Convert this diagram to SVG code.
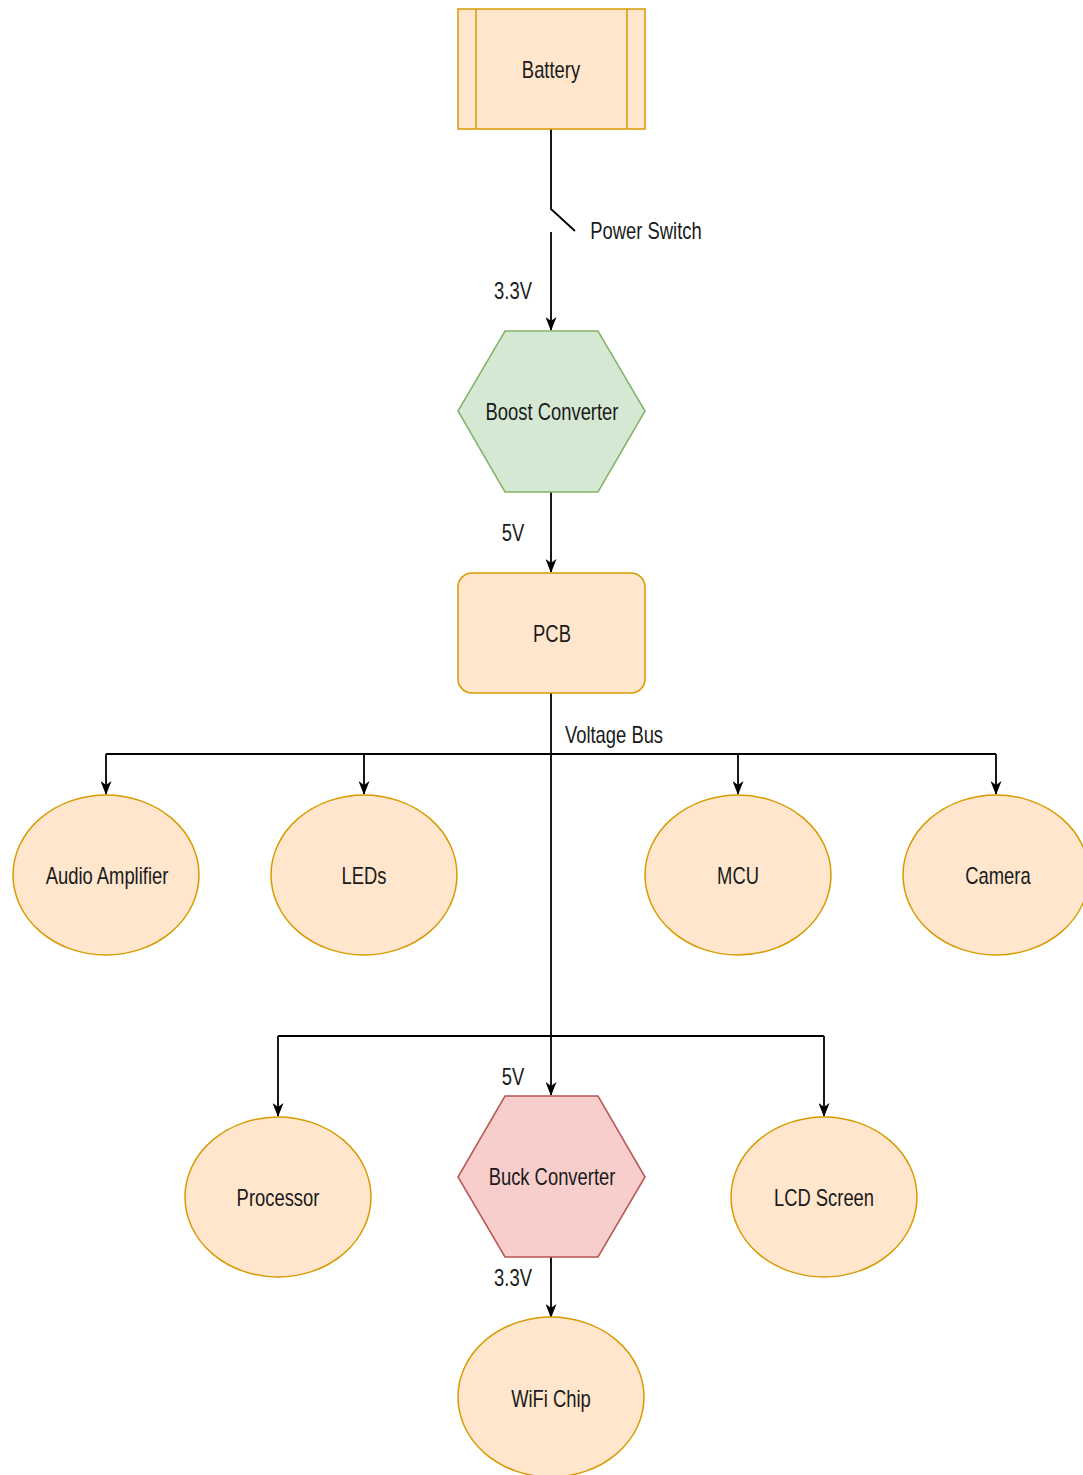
<svg xmlns="http://www.w3.org/2000/svg" width="1083" height="1475" viewBox="0 0 1083 1475">
<style>
.t{font-family:"Liberation Sans",Arial,sans-serif;font-size:23px;fill:#1a1a1a;text-anchor:middle}
.o{fill:#ffe6cc;stroke:#d79b00;stroke-width:1.5}
.g{fill:#d5e8d4;stroke:#82b366;stroke-width:1.5}
.r{fill:#f8cecc;stroke:#b85450;stroke-width:1.5}
.c{fill:none;stroke:#000;stroke-width:1.8}
.a{marker-end:url(#ah)}
</style>
<defs>
<marker id="ah" viewBox="0 0 14 11" refX="13" refY="5.5" markerWidth="14" markerHeight="11" markerUnits="userSpaceOnUse" orient="auto">
<path d="M0,0 L14,5.5 L0,11 L4,5.5 z" fill="#000"/>
</marker>
</defs>
<rect width="1083" height="1475" fill="#fff"/>
<g id="connectors">
<path class="c" d="M551,129 V209 L575,231"/>
<path class="c a" d="M551,232 V330"/>
<path class="c a" d="M551,492 V572"/>
<path class="c a" d="M551,693 V1095"/>
<path class="c" d="M106,754 H996"/>
<path class="c a" d="M106,754 V794"/>
<path class="c a" d="M364,754 V794"/>
<path class="c a" d="M738,754 V794"/>
<path class="c a" d="M996,754 V794"/>
<path class="c" d="M278,1036 H824"/>
<path class="c a" d="M278,1036 V1116"/>
<path class="c a" d="M824,1036 V1116"/>
<path class="c a" d="M551,1257 V1317"/>
<text class="t" transform="matrix(0.8 0 0 1 646 239)">Power Switch</text>
<text class="t" transform="matrix(0.8 0 0 1 513 299)">3.3V</text>
<text class="t" transform="matrix(0.8 0 0 1 513 541)">5V</text>
<text class="t" transform="matrix(0.8 0 0 1 614 743)">Voltage Bus</text>
<text class="t" transform="matrix(0.8 0 0 1 513 1085)">5V</text>
<text class="t" transform="matrix(0.8 0 0 1 513 1286)">3.3V</text>
</g>
<g id="battery">
<rect class="o" x="458" y="9" width="187" height="120"/>
<path class="o" d="M476,9 V129 M627,9 V129"/>
<text class="t" transform="matrix(0.8 0 0 1 551 78)">Battery</text>
</g>
<g id="boost">
<polygon class="g" points="505,331 598,331 645,411 598,492 505,492 458,411"/>
<text class="t" transform="matrix(0.8 0 0 1 552 420)">Boost Converter</text>
</g>
<g id="pcb">
<rect class="o" x="458" y="573" width="187" height="120" rx="14"/>
<text class="t" transform="matrix(0.8 0 0 1 552 642)">PCB</text>
</g>
<g id="audio">
<ellipse class="o" cx="106" cy="875" rx="93" ry="80"/>
<text class="t" transform="matrix(0.8 0 0 1 107 884)">Audio Amplifier</text>
</g>
<g id="leds">
<ellipse class="o" cx="364" cy="875" rx="93" ry="80"/>
<text class="t" transform="matrix(0.8 0 0 1 364 884)">LEDs</text>
</g>
<g id="mcu">
<ellipse class="o" cx="738" cy="875" rx="93" ry="80"/>
<text class="t" transform="matrix(0.8 0 0 1 738 884)">MCU</text>
</g>
<g id="camera">
<ellipse class="o" cx="996" cy="875" rx="93" ry="80"/>
<text class="t" transform="matrix(0.8 0 0 1 998 884)">Camera</text>
</g>
<g id="processor">
<ellipse class="o" cx="278" cy="1197" rx="93" ry="80"/>
<text class="t" transform="matrix(0.8 0 0 1 278 1206)">Processor</text>
</g>
<g id="buck">
<polygon class="r" points="505,1096 598,1096 645,1177 598,1257 505,1257 458,1177"/>
<text class="t" transform="matrix(0.8 0 0 1 552 1185)">Buck Converter</text>
</g>
<g id="lcd">
<ellipse class="o" cx="824" cy="1197" rx="93" ry="80"/>
<text class="t" transform="matrix(0.8 0 0 1 824 1206)">LCD Screen</text>
</g>
<g id="wifi">
<ellipse class="o" cx="551" cy="1397" rx="93" ry="80"/>
<text class="t" transform="matrix(0.8 0 0 1 551 1407)">WiFi Chip</text>
</g>
</svg>
